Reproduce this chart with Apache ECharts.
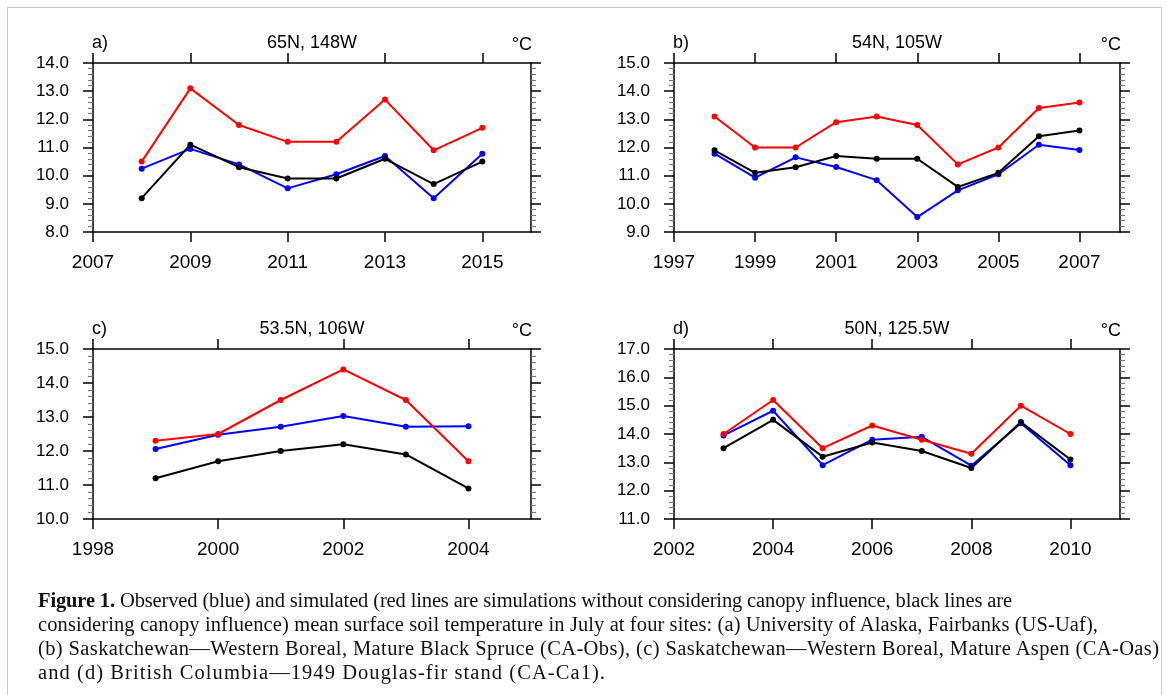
<!DOCTYPE html>
<html>
<head>
<meta charset="utf-8">
<script src="https://cdn.jsdelivr.net/npm/echarts@6/dist/echarts.min.js"></script>
<style>
  html, body { margin: 0; padding: 0; background: #fff; }
  #frame { position: absolute; left: 7px; top: 7px; width: 1155px; height: 720px; border: 1px solid #c8c8c8; box-sizing: border-box; }
  #chart { position: absolute; left: 0; top: 0; width: 1167px; height: 695px; }
  #caption { position: absolute; left: 38px; top: 588px; font-family: "Liberation Serif", "DejaVu Serif", serif; font-size: 20.5px; line-height: 24px; color: #111; white-space: nowrap; }
  #caption .ln { display: block; }
  #caption .ln span.in { display: inline-block; }
</style>
</head>
<body>
<div id="frame"></div>
<div id="chart"></div>
<div id="caption">
  <div class="ln"><span class="in" data-right="1012"><b>Figure 1.</b> Observed (blue) and simulated (red lines are simulations without considering canopy influence, black lines are</span></div>
  <div class="ln"><span class="in" data-right="1098">considering canopy influence) mean surface soil temperature in July at four sites: (a) University of Alaska, Fairbanks (US-Uaf),</span></div>
  <div class="ln"><span class="in" data-right="1159">(b) Saskatchewan—Western Boreal, Mature Black Spruce (CA-Obs), (c) Saskatchewan—Western Boreal, Mature Aspen (CA-Oas)</span></div>
  <div class="ln"><span class="in" data-right="605">and (d) British Columbia—1949 Douglas-fir stand (CA-Ca1).</span></div>
</div>
<script>
// ---------- data ----------
const panelLabels = ['a)', 'b)', 'c)', 'd)'];
const panelTitles = ['65N, 148W', '54N, 105W', '53.5N, 106W', '50N, 125.5W'];
const unitLabel = '\u00B0C';

// panel a
const yearsA = [2008, 2009, 2010, 2011, 2012, 2013, 2014, 2015];
const obsA    = [10.25, 10.95, 10.4, 9.55, 10.05, 10.7, 9.2, 10.78];
const noCanA  = [10.5, 13.1, 11.8, 11.2, 11.2, 12.7, 10.9, 11.7];
const canA    = [9.2, 11.1, 10.3, 9.9, 9.9, 10.6, 9.7, 10.5];
const xTicksA = [2007, 2009, 2011, 2013, 2015];

// panel b
const yearsB = [1998, 1999, 2000, 2001, 2002, 2003, 2004, 2005, 2006, 2007];
const obsB    = [11.78, 10.93, 11.65, 11.31, 10.84, 9.53, 10.48, 11.05, 12.1, 11.91];
const noCanB  = [13.1, 12.0, 12.0, 12.9, 13.1, 12.8, 11.4, 12.0, 13.4, 13.6];
const canB    = [11.9, 11.1, 11.3, 11.7, 11.6, 11.6, 10.6, 11.1, 12.4, 12.6];
const xTicksB = [1997, 1999, 2001, 2003, 2005, 2007];

// panel c
const yearsC = [1999, 2000, 2001, 2002, 2003, 2004];
const obsC    = [12.06, 12.48, 12.71, 13.03, 12.71, 12.73];
const noCanC  = [12.3, 12.5, 13.5, 14.4, 13.5, 11.7];
const canC    = [11.2, 11.7, 12.0, 12.2, 11.9, 10.9];
const xTicksC = [1998, 2000, 2002, 2004];

// panel d
const yearsD = [2003, 2004, 2005, 2006, 2007, 2008, 2009, 2010];
const obsD    = [13.95, 14.82, 12.9, 13.8, 13.9, 12.88, 14.38, 12.9];
const noCanD  = [14.0, 15.2, 13.5, 14.3, 13.8, 13.3, 15.0, 14.0];
const canD    = [13.5, 14.5, 13.2, 13.7, 13.4, 12.8, 14.42, 13.1];
const xTicksD = [2002, 2004, 2006, 2008, 2010];

// axis extents
const xRanges = [[2007, 2016], [1997, 2008], [1998, 2005], [2002, 2011]];
const yRanges = [[8, 14], [9, 15], [10, 15], [11, 17]];

// ---------- layout ----------
const grids = [
  { left: 93,  top: 63,  width: 438, height: 169 },
  { left: 674, top: 63,  width: 446, height: 169 },
  { left: 93,  top: 349, width: 438, height: 170 },
  { left: 674, top: 349, width: 446, height: 170 }
];
const panels = [
  { years: yearsA, obs: obsA, noCan: noCanA, can: canA, ticks: xTicksA },
  { years: yearsB, obs: obsB, noCan: noCanB, can: canB, ticks: xTicksB },
  { years: yearsC, obs: obsC, noCan: noCanC, can: canC, ticks: xTicksC },
  { years: yearsD, obs: obsD, noCan: noCanD, can: canD, ticks: xTicksD }
];

const FONT = '"Liberation Sans", Arial, Helvetica, sans-serif';
const AX = { color: '#000', width: 1.5 };

const option = {
  animation: false,
  backgroundColor: 'transparent',
  grid: grids.map(g => Object.assign({ containLabel: false }, g)),
  title: [],
  xAxis: [],
  yAxis: [],
  series: []
};

panels.forEach((p, i) => {
  const g = grids[i];
  const titleY = g.top - 29;
  option.title.push({
    text: panelTitles[i], left: g.left + g.width / 2, top: titleY, textAlign: 'center',
    textStyle: { fontFamily: FONT, fontSize: 18, fontWeight: 'normal', color: '#000' }, padding: 0
  });
  option.title.push({
    text: panelLabels[i], left: g.left - 1, top: titleY,
    textStyle: { fontFamily: FONT, fontSize: 18, fontWeight: 'normal', color: '#000' }, padding: 0
  });
  option.title.push({
    text: unitLabel, right: 1167 - (g.left + g.width + 1), top: titleY + 2,
    textStyle: { fontFamily: FONT, fontSize: 18, fontWeight: 'normal', color: '#000' }, padding: 0
  });

  const xr = xRanges[i], yr = yRanges[i];
  const xBase = {
    gridIndex: i, type: 'value', min: xr[0], max: xr[1],
    axisLine: { show: true, onZero: false, lineStyle: AX },
    axisTick: { show: true, customValues: p.ticks, length: 10, lineStyle: AX },
    splitLine: { show: false }
  };
  option.xAxis.push(Object.assign({}, xBase, {
    position: 'bottom',
    axisLabel: { show: true, customValues: p.ticks, fontFamily: FONT, fontSize: 19, color: '#000', margin: 21,
                 formatter: v => String(v) }
  }));
  option.xAxis.push(Object.assign({}, xBase, {
    position: 'top',
    axisLabel: { show: false }
  }));

  const yBase = {
    gridIndex: i, type: 'value', min: yr[0], max: yr[1], interval: 1,
    axisLine: { show: true, onZero: false, lineStyle: AX },
    axisTick: { show: true, length: 10, lineStyle: AX },
    minorTick: { show: true, splitNumber: 5, length: 5, lineStyle: { color: '#777', width: 1.2 } },
    splitLine: { show: false },
    minorSplitLine: { show: false }
  };
  option.yAxis.push(Object.assign({}, yBase, {
    position: 'left',
    axisLabel: { show: true, fontFamily: FONT, fontSize: 17, color: '#000', margin: 24,
                 formatter: v => v.toFixed(1) }
  }));
  option.yAxis.push(Object.assign({}, yBase, {
    position: 'right',
    axisLabel: { show: false }
  }));

  const mk = (vals, color) => ({
    type: 'line', xAxisIndex: 2 * i, yAxisIndex: 2 * i,
    data: p.years.map((yv, j) => [yv, vals[j]]),
    symbol: 'circle', symbolSize: 6, showSymbol: true,
    lineStyle: { color: color, width: 2 },
    itemStyle: { color: color },
    emphasis: { disabled: true }
  });
  option.series.push(mk(p.obs, '#0000ff'));
  option.series.push(mk(p.can, '#000000'));
  option.series.push(mk(p.noCan, '#ff0000'));
});

const chart = echarts.init(document.getElementById('chart'), null, { renderer: 'canvas' });
chart.setOption(option);

// fit each caption line to the width it has in the reference
document.querySelectorAll('#caption span.in').forEach(s => {
  const target = parseFloat(s.dataset.right) - 38;
  const w = s.getBoundingClientRect().width;
  const n = s.textContent.length;
  if (n > 1) s.style.letterSpacing = ((target - w) / (n - 1)) + 'px';
});
</script>
</body>
</html>
